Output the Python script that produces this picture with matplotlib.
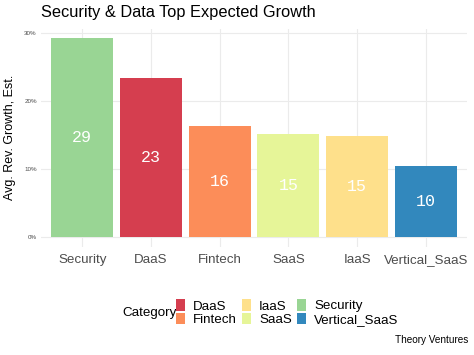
import matplotlib
matplotlib.use("Agg")
import matplotlib.pyplot as plt
from matplotlib.patches import Patch
import numpy as np

plt.rcParams['font.family'] = ['Liberation Sans', 'DejaVu Sans']

categories = ["Security", "DaaS", "Fintech", "SaaS", "IaaS", "Vertical_SaaS"]
values = [29.2, 23.4, 16.3, 15.2, 14.9, 10.4]
colors = {"DaaS": "#d53e4f", "Fintech": "#fc8d59", "IaaS": "#fee08b",
          "SaaS": "#e6f598", "Security": "#99d594", "Vertical_SaaS": "#3288bd"}
legend_order = ["DaaS", "Fintech", "IaaS", "SaaS", "Security", "Vertical_SaaS"]
yticks = [0, 10, 20, 30]
ytick_labels = ["0%", "10%", "20%", "30%"]

fig = plt.figure(figsize=(4.74, 3.55), dpi=100)
ax = fig.add_axes([41/474, 1-247/355, (467-41)/474, (247-28.5)/355])

x = np.arange(len(categories))
ax.bar(x, values, width=0.9, color=[colors[c] for c in categories], zorder=2)
for xi, v in zip(x, values):
    ax.text(xi, v/2, f"{round(v):d}", ha="center", va="center", color="white",
            fontsize=12, family="Liberation Mono", zorder=3)

ax.set_xlim(-0.6, len(categories)-0.4)
ax.set_ylim(-1.46, 30.66)
ax.set_xticks(x)
ax.set_xticklabels(categories, fontsize=9.6, color="#4d4d4d")
ax.set_yticks(yticks)
ax.set_yticklabels(ytick_labels, fontsize=4.5, color="#4d4d4d")
ax.tick_params(length=0, pad=3)
ax.tick_params(axis='x', pad=5)
ax.grid(True, color="#ebebeb", linewidth=0.8, zorder=0)
for s in ax.spines.values():
    s.set_visible(False)
ax.set_ylabel("Avg. Rev. Growth, Est.", fontsize=9, color="black", labelpad=6)

fig.text(41/474, 1-13/355, "Security & Data Top Expected Growth", fontsize=11.8,
         ha="left", va="center")

handles = [Patch(facecolor=colors[c], edgecolor="none") for c in legend_order]
fig.text(122/474, 1-313/355, "Category", fontsize=9.6, ha="left", va="center")
fig.legend(handles, legend_order, ncol=3, loc="center left",
           bbox_to_anchor=(176/474, 1-312.5/355), frameon=False, fontsize=9.6,
           handlelength=0.7, handleheight=1.0, handletextpad=0.6,
           columnspacing=0.35, labelspacing=0.0, borderaxespad=0, borderpad=0)

fig.text(468/474, 1-340/355, "Theory Ventures", fontsize=7.2, ha="right", va="center")

fig.savefig("out.png", dpi=100)
